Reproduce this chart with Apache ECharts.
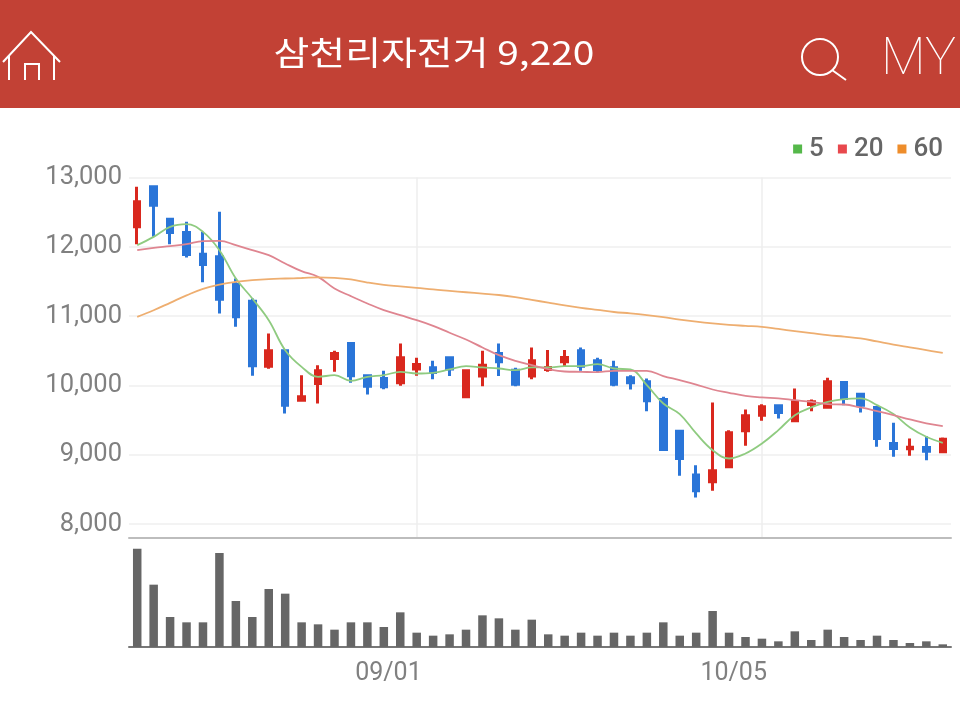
<!DOCTYPE html>
<html><head><meta charset="utf-8">
<style>html,body{margin:0;padding:0;background:#fff}#c{width:960px;height:708px}</style>
<script src="https://cdn.jsdelivr.net/npm/echarts@6/dist/echarts.min.js"></script>
</head><body><div id="c"></div>
<script>
const dates=['08/06','08/07','08/10','08/11','08/12','08/13','08/17','08/18','08/19','08/20','08/21','08/24','08/25','08/26','08/27','08/28','08/31','09/01','09/02','09/03','09/04','09/07','09/08','09/09','09/10','09/11','09/14','09/15','09/16','09/17','09/18','09/21','09/22','09/23','09/24','09/25','09/30','10/01','10/05','10/06','10/07','10/08','10/12','10/13','10/14','10/15','10/16','10/19','10/20','10/21'];
// open, close, low, high
const ohlc=[[12288,12649,12038,12865],[12865,12601,12144,12865],[12399,12207,12038,12399],[12207,11889,11846,12361],[11894,11745,11490,12216],
[11856,11245,11038,12505],[11457,10990,10846,11543],[11216,10284,10139,11255],[10279,10500,10240,10750],[10500,9716,9596,10500],
[9788,9836,9779,10149],[10029,10211,9740,10293],[10389,10461,10197,10500],[10606,10139,10038,10606],[10139,9990,9870,10139],
[10101,9981,9947,10211],[10038,10399,9995,10606],[10236,10303,10139,10399],[10255,10188,10091,10356],[10399,10236,10135,10399],
[9837,10212,9837,10212],[10135,10293,9990,10500],[10462,10341,10135,10606],[10221,10019,9990,10255],[10135,10356,10091,10548],
[10231,10260,10197,10510],[10341,10404,10279,10510],[10500,10279,10212,10548],[10356,10231,10188,10399],[10255,10019,9990,10356],
[10111,10038,9942,10149],[10053,9779,9630,10101],[9798,9077,9077,9837],[9341,8947,8697,9356],[8707,8481,8385,8851],
[8611,8769,8481,9755],[8827,9317,8827,9356],[9346,9562,9130,9654],[9572,9692,9490,9731],[9707,9611,9524,9731],
[9490,9764,9490,9957],[9726,9764,9630,9798],[9687,10053,9687,10111],[10043,9813,9716,10043],[9875,9716,9611,9875],
[9683,9236,9115,9683],[9163,9091,8971,9462],[9086,9110,8986,9235],[9106,9053,8923,9269],[9043,9226,9029,9250]];
const ma5=[12024,12144,12288,12327,12216,11952,11543,11255,10942,10509,10269,10125,10149,10067,10125,10149,10197,10173,10183,10231,10279,10260,10245,10221,10260,10260,10279,10279,10308,10245,10231,10005,9740,9587,9308,9067,8947,9019,9163,9356,9572,9683,9764,9803,9813,9716,9587,9394,9260,9173];
const ma20=[11952,11986,12010,12038,12082,12086,12024,11952,11880,11760,11649,11567,11399,11288,11183,11087,11014,10942,10860,10760,10663,10548,10437,10356,10293,10236,10202,10197,10192,10212,10212,10212,10135,10077,10014,9942,9894,9851,9827,9813,9788,9764,9731,9726,9683,9630,9572,9510,9452,9413];
const ma60=[10990,11085,11192,11300,11395,11455,11495,11519,11535,11543,11550,11560,11552,11529,11485,11450,11430,11409,11385,11365,11345,11325,11305,11275,11235,11195,11155,11120,11090,11060,11040,11015,10985,10950,10920,10895,10875,10860,10845,10815,10785,10755,10725,10705,10680,10635,10590,10550,10510,10470];
const volume=[295,187,90,74,74,282,138,90,174,160,74,68,52,74,74,60,104,43,34,38,52,95,86,52,82,38,34,43,34,43,34,43,74,34,43,108,43,30,25,17,47,21,52,30,21,34,21,12,17,8];
const yTicks=[8000,9000,10000,11000,12000,13000];
const shownDates=['09/01','10/05'];
const title='삼천리자전거 9,220';
const isShown=(i,v)=>shownDates.includes(v);
const fmt=v=>v.toLocaleString('en-US');
const chart=echarts.init(document.getElementById('c'),null,{renderer:'canvas'});
const lineS=(name,data,col,leg)=>({name,type:'line',data,xAxisIndex:0,yAxisIndex:0,smooth:0.4,showSymbol:false,symbol:'none',
  lineStyle:{width:1.8,color:col},itemStyle:{color:leg},z:5,animation:false});
chart.setOption({
 animation:false,backgroundColor:'#fff',
 textStyle:{fontFamily:'Roboto'},
 legend:{data:['5','20','60'],right:12,top:131,icon:'rect',itemWidth:9,itemHeight:9,itemGap:14,
   textStyle:{fontFamily:'Roboto',fontSize:26,fontWeight:500,color:'#666',padding:[0,0,0,2]}},
 grid:[{left:129,right:9,top:177.5,height:360.5},{left:129,right:9,top:547,height:100}],
 xAxis:[
  {type:'category',gridIndex:0,data:dates,axisLine:{lineStyle:{color:'#bdbdbd',width:2}},axisTick:{show:false},axisLabel:{show:false},
   splitLine:{show:true,alignWithLabel:true,interval:isShown,lineStyle:{color:'#eeeeee',width:1.5}}},
  {type:'category',gridIndex:1,data:dates,axisLine:{lineStyle:{color:'#777',width:2}},
   axisTick:{alignWithLabel:true,interval:isShown,length:8,lineStyle:{color:'#ccc'}},
   axisLabel:{interval:isShown,align:'right',margin:14,padding:[0,-5,0,0],fontSize:25,color:'#808080',fontFamily:'Roboto',fontWeight:400},splitLine:{show:false}}
 ],
 yAxis:[
  {type:'value',gridIndex:0,min:7800,max:13000,axisLine:{show:false},
   axisTick:{show:false,customValues:yTicks},
   axisLabel:{customValues:yTicks,formatter:fmt,margin:7,padding:[2,0,0,0],fontSize:25.5,color:'#808080',fontFamily:'Roboto',fontWeight:400},
   splitLine:{lineStyle:{color:'#efefef',width:1.5}}},
  {type:'value',gridIndex:1,min:0,max:300,axisLine:{show:false},axisTick:{show:false},axisLabel:{show:false},splitLine:{show:false}}
 ],
 series:[
  {type:'candlestick',name:'price',data:ohlc,xAxisIndex:0,yAxisIndex:0,barWidth:6,z:3,clip:false,
   itemStyle:{color:'#d9281e',color0:'#2a75d8',borderColor:'#d9281e',borderColor0:'#2a75d8',borderWidth:3}},
  lineS('5',ma5,'#8fcb80','#55b84a'),
  lineS('20',ma20,'#df8590','#e8484d'),
  lineS('60',ma60,'#eeae70','#ee8d2b'),
  {type:'bar',name:'vol',data:volume,xAxisIndex:1,yAxisIndex:1,barWidth:8.5,itemStyle:{color:'#666'}}
 ],
 graphic:{elements:[
  {type:'rect',z:-1,shape:{x:0,y:0,width:960,height:108},style:{fill:'#c24135'}},
  {type:'text',x:434,y:52,scaleX:1.18,style:{text:title,fill:'#fff',font:'400 33px "Noto Sans CJK KR"',textAlign:'center',textVerticalAlign:'middle'}},
  {type:'polyline',shape:{points:[[3,62],[31,32],[60,62]]},style:{stroke:'#fff',lineWidth:2,fill:null}},
  {type:'polyline',shape:{points:[[9,56],[9,80]]},style:{stroke:'#fff',lineWidth:2,fill:null}},
  {type:'polyline',shape:{points:[[54,56],[54,80]]},style:{stroke:'#fff',lineWidth:2,fill:null}},
  {type:'polyline',shape:{points:[[25,80],[25,64],[39,64],[39,80]]},style:{stroke:'#fff',lineWidth:2,fill:null}},
  {type:'circle',shape:{cx:820,cy:57,r:18},style:{stroke:'#fff',lineWidth:2,fill:null}},
  {type:'line',shape:{x1:832,y1:70,x2:846,y2:80},style:{stroke:'#fff',lineWidth:2}},
  {type:'text',left:881,top:35,style:{text:'MY',fill:'#fff',font:'100 52px Roboto'}}
 ]}
});
</script></body></html>
